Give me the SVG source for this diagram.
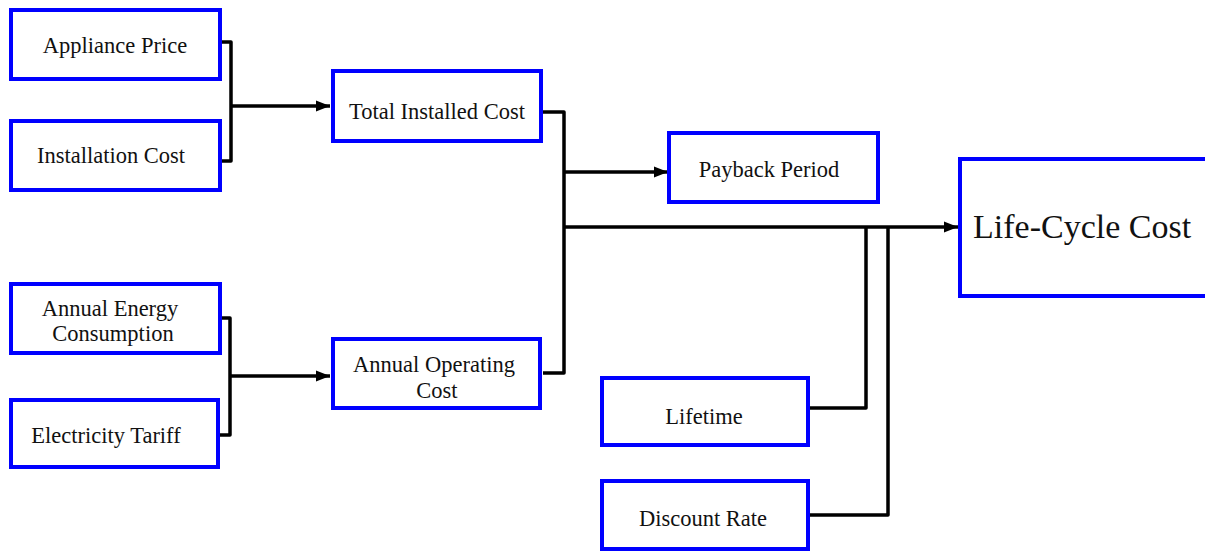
<svg xmlns="http://www.w3.org/2000/svg" width="1205" height="552" viewBox="0 0 1205 552">
<defs>
<style>
.box{fill:#fff;stroke:#0000ff;stroke-width:4}
.t{font-family:"Liberation Serif","Times New Roman",serif;font-size:22.5px;fill:#111;text-anchor:middle}
.big{font-family:"Liberation Serif","Times New Roman",serif;font-size:34px;fill:#111}
.c{fill:none;stroke:#000;stroke-width:3.5;stroke-linejoin:round}
</style>
<marker id="ah" markerWidth="16" markerHeight="14" refX="14" refY="7" orient="auto" markerUnits="userSpaceOnUse">
<path d="M0,1.5 L14,7 L0,12.5 Z" fill="#000"/>
</marker>
</defs>
<g id="connectors">
<path class="c" d="M221,42 H231 V161 H221"/>
<path class="c" d="M231,106 H330" marker-end="url(#ah)"/>
<path class="c" d="M221,318 H230 V435 H219"/>
<path class="c" d="M230,376 H330" marker-end="url(#ah)"/>
<path class="c" d="M542,112 H564 V373 H543"/>
<path class="c" d="M564,172 H668" marker-end="url(#ah)"/>
<path class="c" d="M564,227 H958" marker-end="url(#ah)"/>
<path class="c" d="M809,408 H866 V227"/>
<path class="c" d="M809,515 H888 V227"/>
</g>
<g id="appliance-price"><rect class="box" x="11" y="10" width="209" height="69"/><text class="t" x="115" y="53">Appliance Price</text></g>
<g id="installation-cost"><rect class="box" x="11" y="121" width="209" height="69"/><text class="t" x="111" y="163">Installation Cost</text></g>
<g id="annual-energy"><rect class="box" x="11" y="284" width="209" height="69"/><text class="t" x="110" y="316">Annual Energy</text><text class="t" x="113" y="341">Consumption</text></g>
<g id="electricity-tariff"><rect class="box" x="11" y="400" width="207" height="67"/><text class="t" x="106" y="443">Electricity Tariff</text></g>
<g id="total-installed-cost"><rect class="box" x="333" y="71" width="208" height="70"/><text class="t" x="437" y="119">Total Installed Cost</text></g>
<g id="annual-operating-cost"><rect class="box" x="333" y="339" width="207" height="69"/><text class="t" x="434" y="372">Annual Operating</text><text class="t" x="437" y="398">Cost</text></g>
<g id="payback-period"><rect class="box" x="669" y="133" width="209" height="69"/><text class="t" x="769" y="177">Payback Period</text></g>
<g id="lifetime"><rect class="box" x="602" y="378" width="206" height="67"/><text class="t" x="704" y="424">Lifetime</text></g>
<g id="discount-rate"><rect class="box" x="602" y="481" width="206" height="68"/><text class="t" x="703" y="526">Discount Rate</text></g>
<g id="life-cycle-cost"><rect class="box" x="960" y="159" width="250" height="137"/><text class="big" x="973" y="238">Life-Cycle Cost</text></g>
</svg>
